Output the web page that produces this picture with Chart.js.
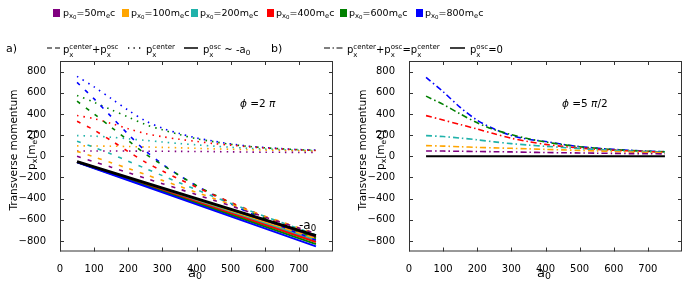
<!DOCTYPE html>
<html>
<head>
<meta charset="utf-8">
<script src="https://cdn.jsdelivr.net/npm/chart.js@4.4.0/dist/chart.umd.min.js"></script>
<style>
body { margin:0; background:#fff; width:688px; height:287px; overflow:hidden; position:relative; font-family:"DejaVu Sans", sans-serif; color:#000; }
canvas { position:absolute; top:0; }
.t { position:absolute; white-space:nowrap; font-size:10px; line-height:1; }
.r1 { font-size:9.5px; top:8px; }
.sq { position:absolute; width:7px; height:8px; top:9px; }
.ss { display:inline-block; vertical-align:-4px; font-size:7px; line-height:8px; }
sub { font-size:0.72em; vertical-align:-0.25em; line-height:0; }
sub sub { font-size:0.8em; }
.ytitle { position:absolute; white-space:nowrap; font-size:10.5px; line-height:1; transform:translate(-50%,-50%) rotate(-90deg); }
svg { position:absolute; overflow:visible; }
</style>
</head>
<body>
<canvas id="chartA" width="344" height="287" style="left:0"></canvas>
<canvas id="chartB" width="344" height="287" style="left:344px"></canvas>

<!-- legend row 1 -->
<div class="sq" style="left:53px;background:#800080"></div><div class="t r1" style="left:63px">p<sub>x<sub>0</sub></sub>=50m<sub>e</sub>c</div>
<div class="sq" style="left:122px;background:#ffa500"></div><div class="t r1" style="left:131px">p<sub>x<sub>0</sub></sub>=100m<sub>e</sub>c</div>
<div class="sq" style="left:191px;background:#20b2aa"></div><div class="t r1" style="left:200px">p<sub>x<sub>0</sub></sub>=200m<sub>e</sub>c</div>
<div class="sq" style="left:267px;background:#ff0000"></div><div class="t r1" style="left:276px">p<sub>x<sub>0</sub></sub>=400m<sub>e</sub>c</div>
<div class="sq" style="left:340px;background:#008000"></div><div class="t r1" style="left:349px">p<sub>x<sub>0</sub></sub>=600m<sub>e</sub>c</div>
<div class="sq" style="left:416px;background:#0000ff"></div><div class="t r1" style="left:425px">p<sub>x<sub>0</sub></sub>=800m<sub>e</sub>c</div>

<!-- legend row 2 -->
<div class="t" style="left:6px;top:43px;font-size:11px">a)</div>
<svg style="left:47px;top:48px" width="14" height="2"><line x1="0" y1="0" x2="13" y2="0" stroke="#000" stroke-width="1.2" stroke-dasharray="5,3"/></svg>
<div class="t" style="left:63px;top:43px">p<span class="ss">center<br>x</span>+p<span class="ss">osc<br>x</span></div>
<svg style="left:128px;top:48px" width="14" height="2"><line x1="0" y1="0" x2="13" y2="0" stroke="#000" stroke-width="1.3" stroke-dasharray="1.3,4.2"/></svg>
<div class="t" style="left:146px;top:43px">p<span class="ss">center<br>x</span></div>
<svg style="left:184px;top:48px" width="15" height="2"><line x1="0" y1="0" x2="14" y2="0" stroke="#000" stroke-width="1.5"/></svg>
<div class="t" style="left:203px;top:43px">p<span class="ss">osc<br>x</span> ~ -a<sub>0</sub></div>
<div class="t" style="left:271px;top:43px;font-size:11px">b)</div>
<svg style="left:324px;top:48px" width="20" height="2"><line x1="0" y1="0" x2="19" y2="0" stroke="#000" stroke-width="1.2" stroke-dasharray="6,2.5,1.5,2.5"/></svg>
<div class="t" style="left:347px;top:43px">p<span class="ss">center<br>x</span>+p<span class="ss">osc<br>x</span>=p<span class="ss">center<br>x</span></div>
<svg style="left:450px;top:48px" width="16" height="2"><line x1="0" y1="0" x2="15" y2="0" stroke="#000" stroke-width="1.5"/></svg>
<div class="t" style="left:470px;top:43px">p<span class="ss">osc<br>x</span>=0</div>

<!-- axis titles and notes -->
<div class="ytitle" style="left:13px;top:150px">Transverse momentum</div>
<div class="ytitle" style="left:31px;top:150px">p<sub>x</sub>[m<sub>e</sub>c]</div>
<div class="ytitle" style="left:362px;top:150px">Transverse momentum</div>
<div class="ytitle" style="left:380px;top:150px">p<sub>x</sub>[m<sub>e</sub>c]</div>
<div class="t" style="left:188px;top:266px;font-size:13px">a<sub>0</sub></div>
<div class="t" style="left:537px;top:266px;font-size:13px">a<sub>0</sub></div>
<div class="t" style="left:240px;top:98px;font-size:10.5px"><i>ϕ</i> =2 <i>π</i></div>
<div class="t" style="left:562px;top:98px;font-size:10.5px"><i>ϕ</i> =5 <i>π</i>/2</div>
<div class="t" style="left:299px;top:219px;font-size:12px">-a<sub>0</sub></div>

<script>
// laser amplitude samples
const a0 = [50, 100, 150, 200, 250, 300, 350, 400, 450, 500, 550, 600, 650, 700, 750];
const a0Ends = [50, 750];
const xTicks = [0, 100, 200, 300, 400, 500, 600, 700];
const yTicks = [-800, -600, -400, -200, 0, 200, 400, 600, 800];

const pxLabels = ['50', '100', '200', '400', '600', '800'];
const pxColors = ['#800080', '#ffa500', '#20b2aa', '#ff0000', '#008000', '#0000ff'];

// a) phi = 2pi : px center (dotted)
const centerA50  = [50, 50, 50, 49, 48, 47, 46, 45, 44, 42, 40, 38, 37, 36, 35];
const centerA100 = [98, 97, 95, 92, 88, 84, 80, 75, 70, 66, 62, 58, 55, 52, 48];
const centerA200 = [195, 190, 180, 165, 150, 135, 120, 108, 96, 85, 76, 68, 62, 57, 52];
const centerA400 = [385, 355, 310, 260, 215, 185, 160, 140, 120, 105, 90, 78, 68, 60, 54];
const centerA600 = [575, 510, 440, 370, 300, 250, 205, 165, 138, 113, 94, 80, 70, 62, 56];
const centerA800 = [755, 655, 545, 435, 335, 265, 215, 173, 143, 117, 96, 83, 72, 63, 58];

// a) px center + px osc (dashed)
const sumA50  = [-1, -52, -103, -155, -207, -259, -311, -363, -415, -468, -521, -574, -626, -678, -730];
const sumA100 = [46, -7, -61, -116, -172, -228, -284, -341, -398, -454, -510, -566, -621, -676, -732];
const sumA200 = [142, 84, 21, -47, -115, -183, -251, -316, -381, -445, -507, -568, -627, -685, -743];
const sumA400 = [331, 247, 148, 44, -55, -139, -218, -292, -366, -435, -504, -570, -634, -696, -756];
const sumA600 = [520, 399, 274, 149, 23, -82, -182, -278, -360, -440, -515, -584, -649, -713, -774];
const sumA800 = [698, 542, 375, 208, 52, -75, -182, -280, -367, -450, -527, -597, -665, -730, -792];

// a) px osc (solid, straight lines) and -a0 reference
const oscA50  = [-52, -765];
const oscA100 = [-53, -780];
const oscA200 = [-54, -795];
const oscA400 = [-55, -810];
const oscA600 = [-56, -830];
const oscA800 = [-57, -852];
const minusA0 = [-50, -750];

// b) phi = 5pi/2 : px center (dash-dot), px osc = 0
const centerB50  = [50, 49, 47, 45, 43, 41, 38, 35, 33, 31, 29, 27, 25, 24, 22];
const centerB100 = [100, 96, 90, 84, 79, 75, 70, 65, 60, 55, 50, 45, 40, 35, 31];
const centerB200 = [195, 186, 172, 155, 136, 119, 106, 94, 83, 72, 63, 55, 48, 42, 37];
const centerB400 = [384, 342, 300, 257, 212, 170, 138, 112, 93, 78, 66, 57, 50, 44, 39];
const centerB600 = [568, 490, 400, 316, 251, 204, 165, 135, 110, 90, 75, 63, 54, 47, 42];
const centerB800 = [745, 610, 462, 340, 257, 196, 160, 140, 113, 91, 77, 65, 56, 48, 43];
const zeroB = [0, 0];

const centerA = [centerA50, centerA100, centerA200, centerA400, centerA600, centerA800];
const sumA = [sumA50, sumA100, sumA200, sumA400, sumA600, sumA800];
const oscA = [oscA50, oscA100, oscA200, oscA400, oscA600, oscA800];
const centerB = [centerB50, centerB100, centerB200, centerB400, centerB600, centerB800];

function pts(xs, ys) {
    return xs.map((x, i) => ({ x: x, y: ys[i] }));
}

function line(label, xs, ys, color, width, dash, order) {
    return {
        label: label,
        data: pts(xs, ys),
        borderColor: color,
        backgroundColor: color,
        borderWidth: width,
        borderDash: dash,
        pointRadius: 0,
        fill: false,
        tension: 0.3,
        order: order
    };
}

// matplotlib-like frame with inward ticks
const frameTicks = {
    id: 'frameTicks',
    afterDraw(chart) {
        const ctx = chart.ctx;
        const a = chart.chartArea;
        const xs = chart.scales.x, ys = chart.scales.y;
        ctx.save();
        ctx.strokeStyle = '#333';
        ctx.lineWidth = 1;
        ctx.strokeRect(a.left + 0.5, a.top + 0.5, a.right - a.left - 1, a.bottom - a.top - 1);
        ctx.beginPath();
        xTicks.forEach(v => {
            const px = Math.round(xs.getPixelForValue(v)) + 0.5;
            ctx.moveTo(px, a.bottom); ctx.lineTo(px, a.bottom - 4);
            ctx.moveTo(px, a.top); ctx.lineTo(px, a.top + 4);
        });
        yTicks.forEach(v => {
            const py = Math.round(ys.getPixelForValue(v)) + 0.5;
            ctx.moveTo(a.left, py); ctx.lineTo(a.left + 4, py);
            ctx.moveTo(a.right, py); ctx.lineTo(a.right - 4, py);
        });
        ctx.stroke();
        ctx.restore();
    }
};

function makeOptions(yWidth, padRight) {
    const tickFont = { family: 'DejaVu Sans', size: 10 };
    return {
        responsive: false,
        animation: false,
        layout: { padding: { top: 61, right: padRight, left: 0, bottom: 0 } },
        plugins: { legend: { display: false }, tooltip: { enabled: false } },
        scales: {
            x: {
                type: 'linear', min: 0, max: 800,
                grid: { display: false }, border: { display: false },
                afterBuildTicks: s => { s.ticks = xTicks.map(v => ({ value: v })); },
                afterFit: s => { s.height = 35.5; },
                ticks: { color: '#000', font: tickFont, padding: 4, maxRotation: 0 }
            },
            y: {
                type: 'linear', min: -900, max: 900,
                grid: { display: false }, border: { display: false },
                afterBuildTicks: s => { s.ticks = yTicks.map(v => ({ value: v })); },
                afterFit: s => { s.width = yWidth; },
                ticks: { color: '#000', font: tickFont, padding: 6,
                         callback: v => String(v).replace('-', '\u2212') }
            }
        }
    };
}

// panel a
const dsA = [];
dsA.push(line('-a0', a0Ends, minusA0, '#000', 2.8, [], 0));
pxColors.forEach((c, i) => {
    dsA.push(line('sum ' + pxLabels[i], a0, sumA[i], c, 1.6, [4, 7], 1));
    dsA.push(line('center ' + pxLabels[i], a0, centerA[i], c, 1.6, [1.5, 5], 2));
    dsA.push(line('osc ' + pxLabels[i], a0Ends, oscA[i], c, 2, [], 3 + (5 - i)));
});

new Chart(document.getElementById('chartA'), {
    type: 'line',
    data: { datasets: dsA },
    options: makeOptions(60, 11),
    plugins: [frameTicks]
});

// panel b
const dsB = [];
dsB.push(line('osc = 0', a0Ends, zeroB, '#000', 2, [], 0));
pxColors.forEach((c, i) => {
    dsB.push(line('center ' + pxLabels[i], a0, centerB[i], c, 1.6, [6, 3, 1.5, 3], 1));
});

new Chart(document.getElementById('chartB'), {
    type: 'line',
    data: { datasets: dsB },
    options: makeOptions(65, 6),
    plugins: [frameTicks]
});
</script>
</body>
</html>
